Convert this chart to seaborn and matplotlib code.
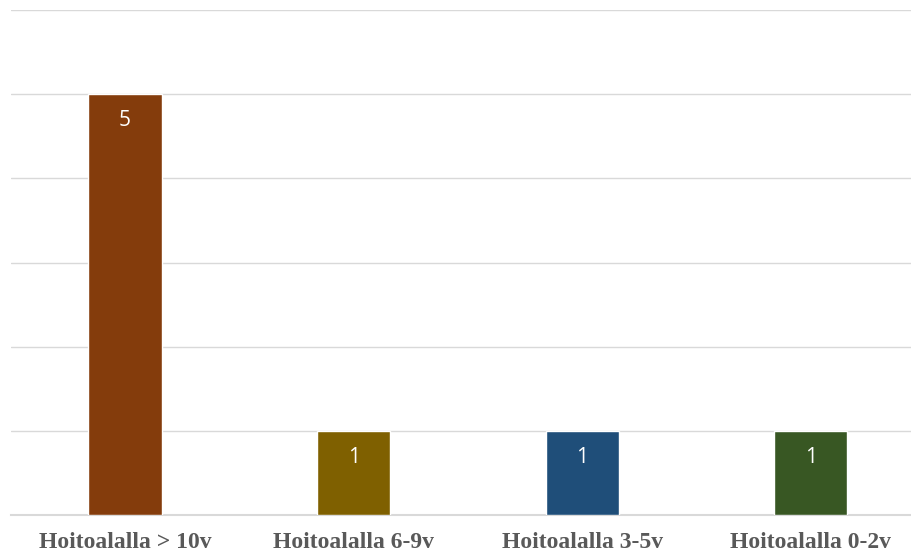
import matplotlib
matplotlib.use("Agg")
import matplotlib.pyplot as plt
import seaborn as sns
import pandas as pd

categories = ["Hoitoalalla > 10v", "Hoitoalalla 6-9v", "Hoitoalalla 3-5v", "Hoitoalalla 0-2v"]
values = [5, 1, 1, 1]
colors = ["#843C0C", "#7F6000", "#1F4E79", "#385723"]

sns.set_theme(style="white")
plt.rcParams['font.family'] = ['Liberation Sans', 'DejaVu Sans']

df = pd.DataFrame({"cat": categories, "val": values})

fig = plt.figure(figsize=(9.11, 5.56), dpi=100)
W, H = 911, 556
left_px, right_px = 10.7, 925.0
top_px, bot_px = 10.0, 515.0
ax = fig.add_axes([left_px / W, (H - bot_px) / H, (right_px - left_px) / W, (bot_px - top_px) / H])

sns.barplot(data=df, x="cat", y="val", hue="cat", palette=colors, width=0.32,
            legend=False, ax=ax, saturation=1, zorder=3)

ax.set_ylim(0, 6)
ax.set_xlim(-0.5, 3.5)
ax.set_yticks(range(0, 7))
ax.set_yticklabels([])
ax.tick_params(axis="y", length=0)
ax.yaxis.grid(True, color="#d9d9d9", linewidth=1.0, zorder=0)
ax.set_axisbelow(True)
for s in ["top", "right", "left"]:
    ax.spines[s].set_visible(False)
ax.spines["bottom"].set_color("#d9d9d9")
ax.spines["bottom"].set_linewidth(1.5)
ax.spines["bottom"].set_zorder(1)
ax.set_xlabel("")
ax.set_ylabel("")
ax.tick_params(axis="x", length=0, pad=12)
for lbl in ax.get_xticklabels():
    lbl.set_fontfamily(["Liberation Serif", "DejaVu Serif"])
    lbl.set_fontweight("bold")
    lbl.set_fontsize(17)
    lbl.set_color("#595959")

for i, v in enumerate(values):
    ax.annotate(str(v), xy=(i, v), xytext=(0, -19), textcoords="offset points",
                ha="center", va="center", color="white", fontsize=15,
                fontfamily=["Open Sans", "DejaVu Sans"])

fig.savefig("out.png", dpi=100)
